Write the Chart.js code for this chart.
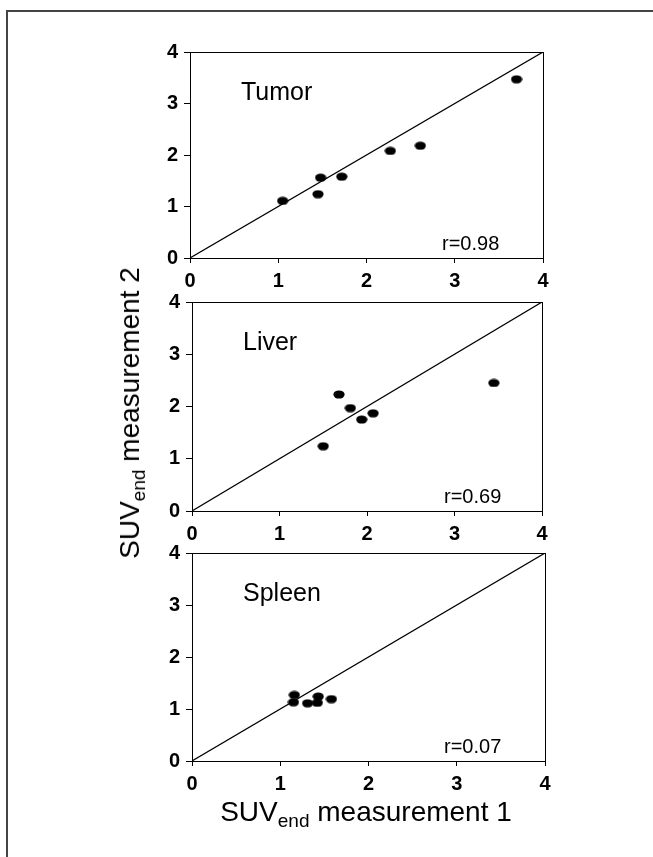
<!DOCTYPE html>
<html>
<head>
<meta charset="utf-8">
<script src="https://cdn.jsdelivr.net/npm/chart.js@4.4.1/dist/chart.umd.min.js"></script>
<style>
  body { margin: 0; background: #fff; }
  #wrap { position: relative; width: 653px; height: 857px; overflow: hidden; font-family: "Liberation Sans", Arial, sans-serif; }
  #frame { position: absolute; left: 6px; top: 10px; width: 700px; height: 900px; border-top: 2px solid #444; border-left: 2px solid #444; }
  canvas { position: absolute; left: 0; }
  .title { position: absolute; font-size: 28px; color: #000; white-space: nowrap; line-height: 28px; }
  .title sub { font-size: 0.68em; line-height: 0; vertical-align: -0.3em; }
  #ytitle { left: 130px; top: 413px; transform: translate(-50%, -50%) rotate(-90deg); }
  #xtitle { left: 366px; top: 798px; transform: translateX(-50%); }
</style>
</head>
<body>
<div id="wrap">
  <div id="frame"></div>
  <canvas id="panel1"></canvas>
  <canvas id="panel2"></canvas>
  <canvas id="panel3"></canvas>
  <div class="title" id="ytitle">SUV<sub>end</sub> measurement 2</div>
  <div class="title" id="xtitle">SUV<sub>end</sub> measurement 1</div>
</div>
<script>
/* Datos */
const tickValues = [0, 1, 2, 3, 4];
const panelNames = ['Tumor', 'Liver', 'Spleen'];
const rValues = ['r=0.98', 'r=0.69', 'r=0.07'];
const identityLine = [{x: 0, y: 0}, {x: 4, y: 4}];

const tumorX = [1.05, 1.45, 1.48, 1.72, 2.27, 2.61, 3.70];
const tumorY = [1.11, 1.24, 1.56, 1.58, 2.08, 2.18, 3.47];
const liverX = [1.50, 1.68, 1.81, 1.94, 2.07, 3.45];
const liverY = [1.24, 2.23, 1.97, 1.75, 1.87, 2.45];
const spleenX = [1.15, 1.16, 1.31, 1.42, 1.43, 1.58];
const spleenY = [1.13, 1.27, 1.11, 1.12, 1.24, 1.19];

/* posicion de cada panel en la pagina (area del grafico) */
const panelLayout = [
  {left: 190, right: 543, top: 52, bottom: 258},
  {left: 192, right: 542, top: 302, bottom: 511},
  {left: 192, right: 545, top: 553, bottom: 761}
];

/* punto eliptico negro */
const dot = document.createElement('canvas');
dot.width = 12; dot.height = 9;
const dctx = dot.getContext('2d');
dctx.fillStyle = '#000';
dctx.beginPath();
dctx.ellipse(6, 4.5, 5.6, 4.1, 0, 0, Math.PI * 2);
dctx.fill();

function toPoints(xs, ys) {
  return xs.map((x, i) => ({x: x, y: ys[i]}));
}

const frameLabels = {
  id: 'frameLabels',
  afterDatasetsDraw(chart, args, opts) {
    const a = chart.chartArea;
    const c = chart.ctx;
    c.save();
    c.strokeStyle = '#000';
    c.lineWidth = 1;
    c.strokeRect(a.left + 0.5, a.top + 0.5, a.right - a.left, a.bottom - a.top);
    c.fillStyle = '#000';
    c.textBaseline = 'alphabetic';
    c.textAlign = 'left';
    c.font = '25px "Liberation Sans", Arial, sans-serif';
    c.fillText(opts.name, a.left + 51, a.top + 48);
    c.font = '20px "Liberation Sans", Arial, sans-serif';
    c.fillText(opts.r, a.left + 252, a.bottom - 8);
    c.restore();
  }
};

const PAD_TOP = 20, XAXIS_H = 42, W = 653;
const tickFont = {family: '"Liberation Sans", Arial, sans-serif', size: 20, weight: 'bold'};
const series = [toPoints(tumorX, tumorY), toPoints(liverX, liverY), toPoints(spleenX, spleenY)];

series.forEach((pts, i) => {
  const lay = panelLayout[i];
  const cv = document.getElementById('panel' + (i + 1));
  const h = (lay.bottom - lay.top) + PAD_TOP + XAXIS_H;
  cv.style.top = (lay.top - PAD_TOP) + 'px';
  cv.style.width = W + 'px';
  cv.style.height = h + 'px';
  cv.width = W; cv.height = h;

  new Chart(cv, {
    type: 'scatter',
    data: {
      datasets: [{
        data: pts,
        pointStyle: dot,
        pointRadius: 5,
        pointHoverRadius: 5
      }, {
        type: 'line',
        data: identityLine,
        borderColor: '#000',
        borderWidth: 1.2,
        pointRadius: 0,
        fill: false
      }]
    },
    options: {
      responsive: false,
      animation: false,
      events: [],
      layout: {padding: {left: 0, right: W - lay.right, top: PAD_TOP, bottom: 0}},
      plugins: {
        legend: {display: false},
        tooltip: {enabled: false},
        frameLabels: {name: panelNames[i], r: rValues[i]}
      },
      scales: {
        x: {
          type: 'linear', min: 0, max: 4,
          afterBuildTicks: s => { s.ticks = tickValues.map(v => ({value: v})); },
          afterFit: s => { s.height = XAXIS_H; },
          grid: {drawOnChartArea: false, drawTicks: true, tickLength: 5, color: '#000', lineWidth: 1},
          border: {display: true, color: '#000', width: 1},
          ticks: {color: '#000', padding: 6, maxRotation: 0, font: tickFont}
        },
        y: {
          type: 'linear', min: 0, max: 4,
          afterBuildTicks: s => { s.ticks = tickValues.map(v => ({value: v})); },
          afterFit: s => { s.width = lay.left; },
          grid: {drawOnChartArea: false, drawTicks: true, tickLength: 6, color: '#000', lineWidth: 1},
          border: {display: true, color: '#000', width: 1},
          ticks: {color: '#000', padding: 6, font: tickFont}
        }
      }
    },
    plugins: [frameLabels]
  });
});
</script>
</body>
</html>
